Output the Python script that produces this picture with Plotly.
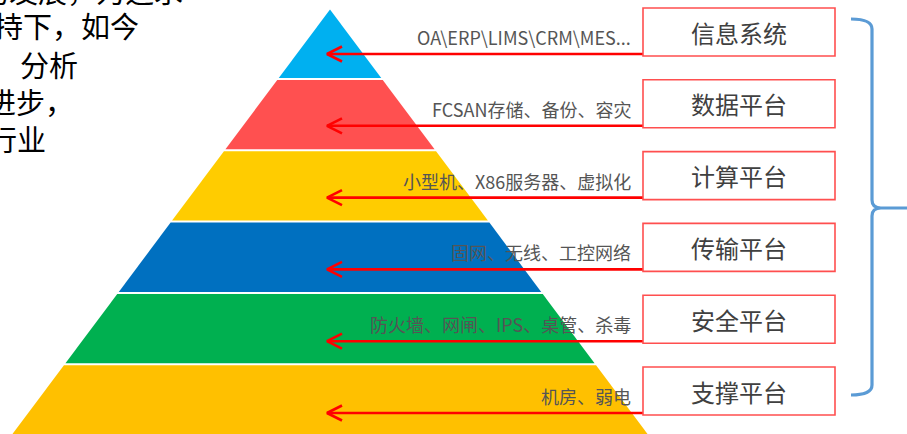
import plotly.graph_objects as go

# ---------------- data ----------------
layers = ["信息系统", "数据平台", "计算平台", "传输平台", "安全平台", "支撑平台"]
details = [
    "OA\\ERP\\LIMS\\CRM\\MES...",
    "FCSAN存储、备份、容灾",
    "小型机、X86服务器、虚拟化",
    "固网、无线、工控网络",
    "防火墙、网闸、IPS、桌管、杀毒",
    "机房、弱电",
]
layer_colors = ["#00B0F0", "#FF5050", "#FFCC00", "#0070C0", "#00B050", "#FFC000"]
intro_lines = ["经过了多年的发展，为追求", "在政策的支持下，如今", "分析", "技术的进步，", "各行业"]
intro_right = [185, 141, 80, 76, 48]
intro_y = [-10, 25.5, 64, 101, 138]

# ---------------- layout constants ----------------
W, H = 907, 434
apex_x, apex_y = 330, 9.5
slope = 0.748          # half-width gained per pixel downwards
band_start, band_pitch, gap = 79, 71.3, 1.0
box_x0, box_x1 = 643, 835
box_top0, box_pitch, box_h = 8, 71.8, 48
tip_x = 327
label_right = 633
FONT = "Noto Sans CJK SC"


def half_w(y):
    return max(0.0, (y - apex_y) * slope)


fig = go.Figure()
n = len(layers)

# pyramid layers
for k in range(n):
    top = apex_y if k == 0 else band_start + (k - 1) * band_pitch + gap
    bot = band_start + k * band_pitch - gap if k < n - 1 else H + 20
    xs = [apex_x - half_w(top), apex_x + half_w(top), apex_x + half_w(bot), apex_x - half_w(bot), apex_x - half_w(top)]
    ys = [top, top, bot, bot, top]
    fig.add_trace(go.Scatter(x=xs, y=ys, mode="lines", fill="toself",
                             fillcolor=layer_colors[k], line=dict(width=0, color=layer_colors[k]),
                             hoverinfo="skip", showlegend=False))

shapes = []
annotations = []

for k in range(n):
    bt = box_top0 + k * box_pitch
    bb = bt + box_h
    ay = bb - 2
    # label box
    shapes.append(dict(type="rect", xref="x", yref="y", x0=box_x0, x1=box_x1, y0=bt, y1=bb,
                       line=dict(color="#FF4F4F", width=1.6), fillcolor="rgba(0,0,0,0)"))
    annotations.append(dict(x=(box_x0 + box_x1) / 2, y=(bt + bb) / 2, xref="x", yref="y",
                            text=layers[k], showarrow=False, xanchor="center", yanchor="middle",
                            font=dict(family=FONT, size=24, color="#404040")))
    # detail text
    annotations.append(dict(x=label_right, y=ay - 17, xref="x", yref="y",
                            text=details[k], showarrow=False, xanchor="right", yanchor="middle",
                            font=dict(family=FONT, size=18, color="#555555")))
    # arrow (line + open chevron)
    fig.add_trace(go.Scatter(
        x=[box_x0, tip_x, None, tip_x + 15, tip_x, tip_x + 15],
        y=[ay, ay, None, ay - 7.5, ay, ay + 7.5],
        mode="lines", line=dict(color="#FF0000", width=2.6),
        hoverinfo="skip", showlegend=False))

# intro text (partially cut off at the left/top edge) - paper refs so it is not hidden
for t, r, yy in zip(intro_lines, intro_right, intro_y):
    annotations.append(dict(x=r / W, y=1 - yy / H, xref="paper", yref="paper", text=t,
                            showarrow=False, xanchor="right", yanchor="middle",
                            font=dict(family=FONT, size=29, color="#000000")))

# brace
bx, by0, by1, bxl = 872, 19, 395, 851
bmid = (by0 + by1) / 2 + 1
brace = (f"M {bxl},{by0} Q {bx},{by0} {bx},{by0 + 10} L {bx},{bmid - 8} "
         f"Q {bx},{bmid} {bx + 9},{bmid} L {W + 10},{bmid} "
         f"M {bx + 9},{bmid} Q {bx},{bmid} {bx},{bmid + 8} L {bx},{by1 - 10} "
         f"Q {bx},{by1} {bxl},{by1}")
shapes.append(dict(type="path", xref="x", yref="y", path=brace,
                   line=dict(color="#5B9BD5", width=3.2)))

fig.update_layout(
    width=W, height=H, margin=dict(l=0, r=0, t=0, b=0),
    paper_bgcolor="white", plot_bgcolor="white",
    xaxis=dict(range=[0, W], visible=False, fixedrange=True),
    yaxis=dict(range=[H, 0], visible=False, fixedrange=True),
    shapes=shapes, annotations=annotations, showlegend=False,
)

fig.write_html("out.html")
